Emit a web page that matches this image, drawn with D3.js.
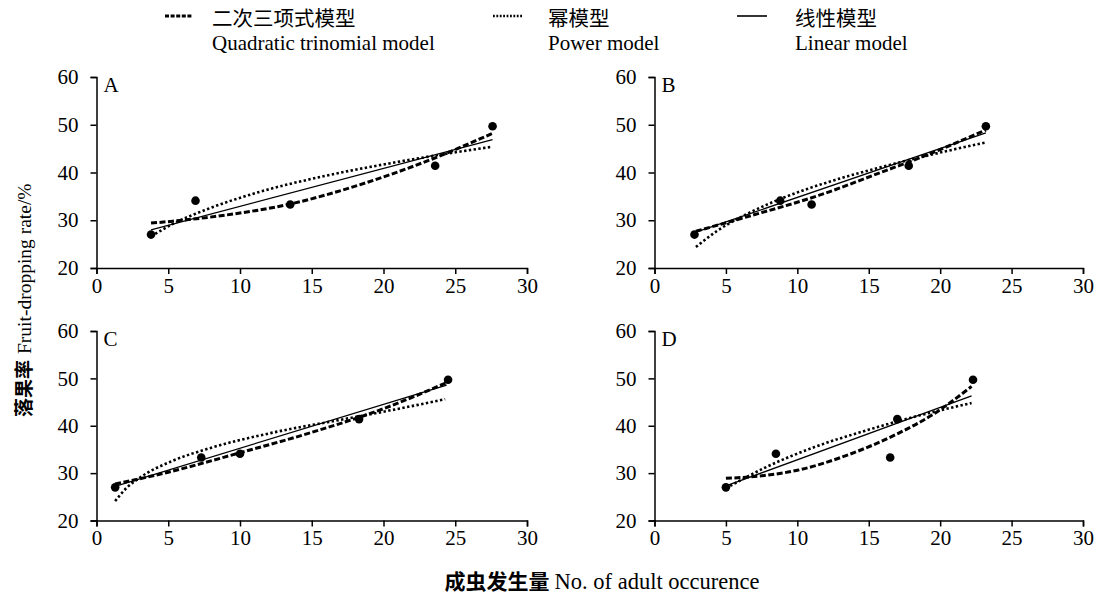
<!DOCTYPE html>
<html>
<head>
<meta charset="utf-8">
<script src="https://cdn.jsdelivr.net/npm/d3@7/dist/d3.min.js"></script>
<style>
  html, body { margin: 0; padding: 0; background: #fff; }
  svg { display: block; }
  .tick text { font-family: "Liberation Serif", "Times New Roman", serif; font-size: 21px; fill: #000; }
  .domain, .tick line { stroke: #000; stroke-width: 1.5; }
</style>
</head>
<body>
<svg id="chart" width="1101" height="595"></svg>
<script>
// ---------- data ----------
const xTicks = [0, 5, 10, 15, 20, 25, 30];
const yTicks = [20, 30, 40, 50, 60];
const panelLabels = ["A", "B", "C", "D"];

// observed points (x = No. of adult occurrence, y = fruit-dropping rate %)
const obsXA = [3.8, 6.9, 13.5, 23.6, 27.6];
const obsYA = [27.0, 34.1, 33.3, 41.4, 49.7];
const obsXB = [2.8, 8.8, 11.0, 17.8, 23.2];
const obsYB = [27.0, 34.1, 33.3, 41.4, 49.7];
const obsXC = [1.3, 7.3, 10.0, 18.3, 24.5];
const obsYC = [27.0, 33.3, 34.1, 41.4, 49.7];
const obsXD = [5.0, 8.5, 16.5, 17.0, 22.3];
const obsYD = [27.0, 34.1, 33.3, 41.4, 49.7];

// fitted curves
const linXA = [3.8, 27.6];           const linYA = [28.0, 46.9];
const quadXA = [3.8, 5.3, 8.8, 13.5, 18.1, 23.2, 27.6];
const quadYA = [29.4, 29.8, 31.0, 33.4, 37.2, 42.6, 48.2];
const powXA = [3.8, 5.3, 7.7, 11.2, 15.8, 20.4, 23.9, 27.6];
const powYA = [26.6, 29.2, 32.3, 35.8, 39.2, 41.9, 43.7, 45.4];

const linXB = [2.9, 23.2];           const linYB = [27.5, 48.3];
const quadXB = [2.9, 6.8, 11.5, 16.1, 18.5, 23.2];
const quadYB = [27.7, 31.0, 35.2, 40.3, 43.0, 48.9];
const powXB = [2.9, 4.4, 6.8, 9.1, 12.6, 16.1, 19.6, 23.2];
const powYB = [24.4, 27.8, 31.8, 34.8, 38.4, 41.3, 43.9, 46.3];

const linXC = [1.3, 24.4];           const linYC = [27.2, 48.6];
const quadXC = [1.3, 5.0, 10.0, 15.0, 20.0, 24.4];
const quadYC = [27.7, 30.2, 34.3, 38.6, 43.6, 49.1];
const powXC = [1.3, 2.0, 3.0, 5.3, 7.6, 12.2, 16.9, 20.4, 24.3];
const powYC = [24.1, 26.6, 29.0, 32.6, 35.0, 38.5, 41.2, 43.2, 45.6];

const linXD = [5.0, 22.2];           const linYD = [27.3, 46.3];
const quadXD = [5.0, 7.7, 10.0, 13.5, 17.0, 19.4, 22.2];
const quadYD = [28.9, 29.5, 30.6, 33.8, 38.3, 42.2, 48.3];
const powXD = [5.0, 7.7, 11.2, 14.7, 18.2, 22.2];
const powYD = [26.8, 31.1, 35.5, 38.9, 41.9, 44.8];

const legendCN = ["二次三项式模型", "幂模型", "线性模型"];
const legendEN = ["Quadratic trinomial model", "Power model", "Linear model"];
const yTitleCN = "落果率";
const yTitleEN = "Fruit-dropping rate/%";
const xTitleCN = "成虫发生量";
const xTitleEN = "No. of adult occurence";

// ---------- helpers ----------
const zip = (xs, ys) => xs.map((x, i) => [x, ys[i]]);
const panelsData = [
  { obs: zip(obsXA, obsYA), lin: zip(linXA, linYA), quad: zip(quadXA, quadYA), pow: zip(powXA, powYA) },
  { obs: zip(obsXB, obsYB), lin: zip(linXB, linYB), quad: zip(quadXB, quadYB), pow: zip(powXB, powYB) },
  { obs: zip(obsXC, obsYC), lin: zip(linXC, linYC), quad: zip(quadXC, quadYC), pow: zip(powXC, powYC) },
  { obs: zip(obsXD, obsYD), lin: zip(linXD, linYD), quad: zip(quadXD, quadYD), pow: zip(powXD, powYD) }
];

// panel pixel frames
const frames = [
  { x0: 96.5, x1: 527, y0: 268, y1: 77 },
  { x0: 654.5, x1: 1083, y0: 268, y1: 77 },
  { x0: 96.5, x1: 527, y0: 520.5, y1: 331 },
  { x0: 654.5, x1: 1083, y0: 520.5, y1: 331 }
];

const serif = '"Liberation Serif", "Times New Roman", serif';
const cjk = '"Noto Sans CJK SC", sans-serif';

const svg = d3.select("#chart");

const styles = {
  quad: { w: 3, dash: "6 2.5", cap: "butt" },
  pow:  { w: 2.6, dash: "2.4 2.4", cap: "butt" },
  lin:  { w: 1.3, dash: null, cap: "butt" }
};

panelsData.forEach((pd, i) => {
  const f = frames[i];
  const x = d3.scaleLinear().domain([0, 30]).range([f.x0, f.x1]);
  const y = d3.scaleLinear().domain([20, 60]).range([f.y0, f.y1]);
  const g = svg.append("g");

  g.append("g").attr("transform", `translate(0,${f.y0})`)
    .call(d3.axisBottom(x).tickValues(xTicks).tickSizeOuter(0).tickSize(6).tickPadding(4));
  g.append("g").attr("transform", `translate(${f.x0},0)`)
    .call(d3.axisLeft(y).tickValues(yTicks).tickSizeOuter(0).tickSize(6).tickPadding(12));

  const line = d3.line().x(d => x(d[0])).y(d => y(d[1])).curve(d3.curveMonotoneX);

  ["pow", "quad", "lin"].forEach(k => {
    const s = styles[k];
    const p = g.append("path").datum(pd[k]).attr("d", line)
      .attr("fill", "none").attr("stroke", "#000")
      .attr("stroke-width", s.w).attr("stroke-linecap", s.cap);
    if (s.dash) p.attr("stroke-dasharray", s.dash);
  });

  g.selectAll("circle.pt").data(pd.obs).enter().append("circle")
    .attr("class", "pt").attr("cx", d => x(d[0])).attr("cy", d => y(d[1]))
    .attr("r", 4.3).attr("fill", "#000");

  g.append("text").attr("x", f.x0 + 7).attr("y", f.y1 + 15)
    .attr("font-family", serif).attr("font-size", 21).text(panelLabels[i]);
});

// ---------- legend ----------
const legendItems = [
  { key: "quad", sx: 165, ex: 193, tx: 212 },
  { key: "pow",  sx: 493, ex: 523, tx: 548 },
  { key: "lin",  sx: 737, ex: 767, tx: 795 }
];
const legendDash = { quad: "4 1.6", pow: "1.8 1.6", lin: null };
const legendW = { quad: 3, pow: 2.4, lin: 1.6 };
legendItems.forEach((it, i) => {
  const l = svg.append("line").attr("x1", it.sx).attr("x2", it.ex)
    .attr("y1", 16).attr("y2", 16).attr("stroke", "#000")
    .attr("stroke-width", legendW[it.key]);
  if (legendDash[it.key]) l.attr("stroke-dasharray", legendDash[it.key]);
  svg.append("text").attr("x", it.tx).attr("y", 26)
    .attr("font-family", cjk).attr("font-size", 20.5).text(legendCN[i]);
  svg.append("text").attr("x", it.tx).attr("y", 50)
    .attr("font-family", serif).attr("font-size", 21).text(legendEN[i]);
});

// ---------- axis titles ----------
const yt = svg.append("text").attr("transform", "translate(31,417) rotate(-90)")
  .attr("text-anchor", "start");
yt.append("tspan").attr("font-family", cjk).attr("font-weight", "bold")
  .attr("font-size", 19).text(yTitleCN);
yt.append("tspan").attr("font-family", serif).attr("font-size", 19.5)
  .attr("dx", 6).text(yTitleEN);

const xt = svg.append("text").attr("x", 602).attr("y", 589).attr("text-anchor", "middle");
xt.append("tspan").attr("font-family", cjk).attr("font-weight", "bold")
  .attr("font-size", 21).text(xTitleCN);
xt.append("tspan").attr("font-family", serif).attr("font-size", 22.5)
  .attr("dx", 5).text(xTitleEN);
</script>
</body>
</html>
